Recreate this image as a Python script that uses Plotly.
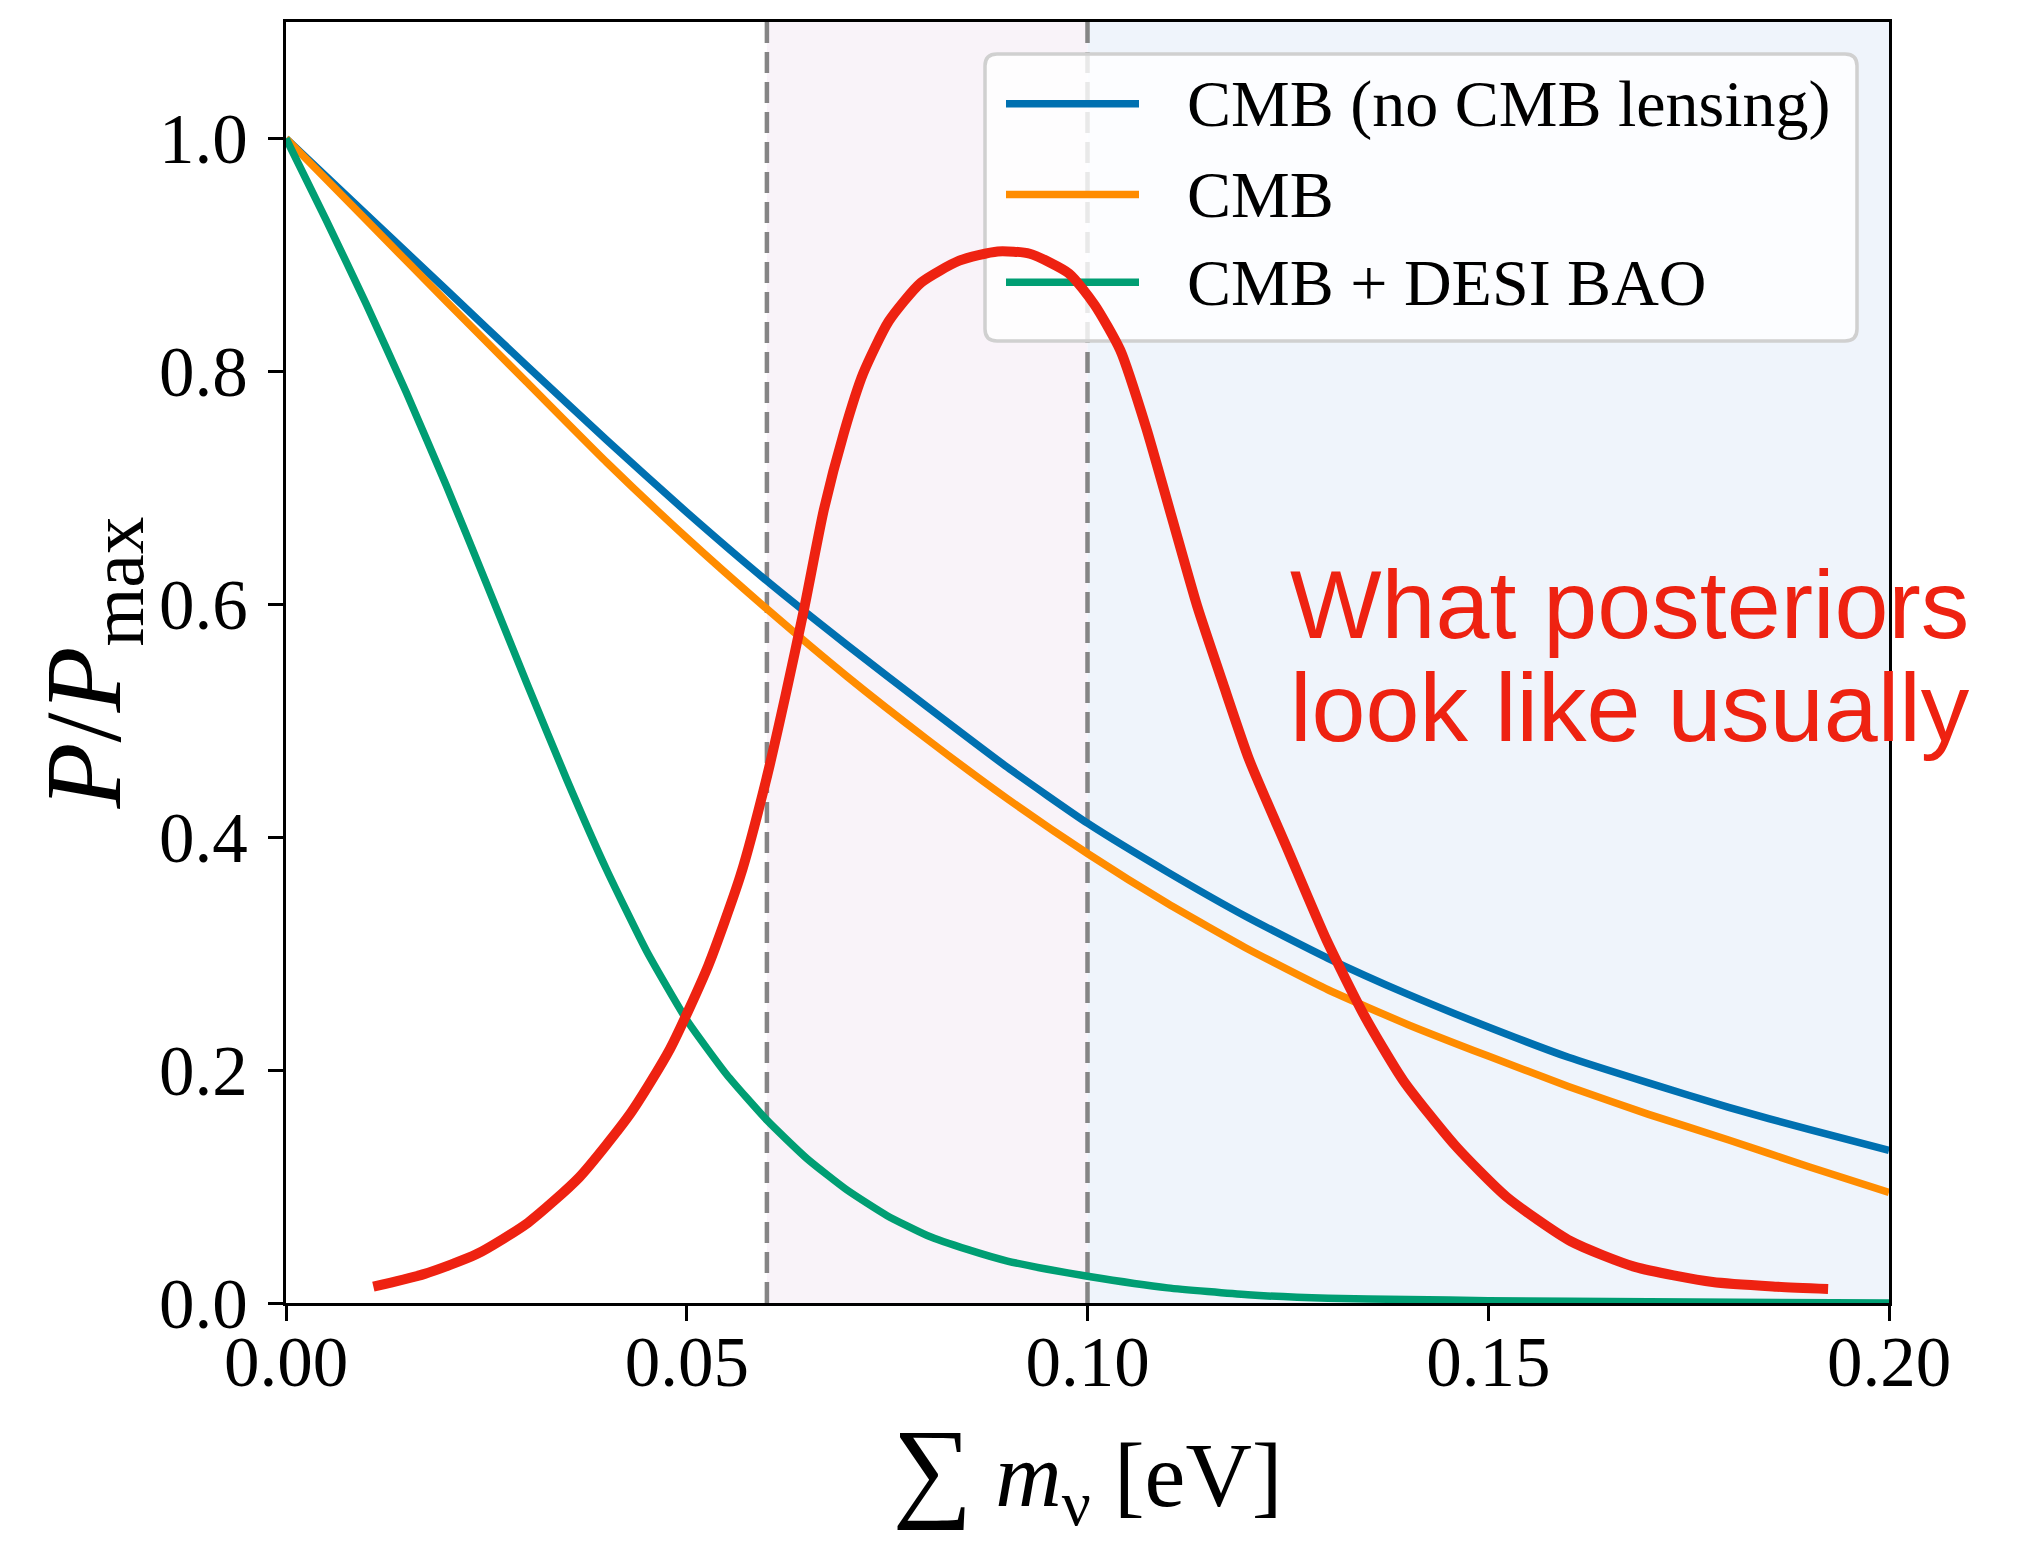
import plotly.graph_objects as go

# ---------------- data ----------------
mnu_grid = [0.00, 0.01, 0.02, 0.03, 0.04, 0.05, 0.06, 0.07, 0.08, 0.09, 0.10,
            0.11, 0.12, 0.13, 0.14, 0.15, 0.16, 0.17, 0.18, 0.19, 0.20]
p_cmb_nolens = [1.000, 0.935, 0.870, 0.805, 0.741, 0.679, 0.620, 0.565, 0.512, 0.460, 0.412,
                0.370, 0.331, 0.296, 0.265, 0.237, 0.211, 0.189, 0.168, 0.149, 0.131]
p_cmb = [1.000, 0.930, 0.860, 0.791, 0.722, 0.657, 0.596, 0.538, 0.484, 0.433, 0.386,
         0.343, 0.304, 0.269, 0.239, 0.212, 0.186, 0.162, 0.140, 0.117, 0.095]

mnu_desi = [0.000, 0.005, 0.010, 0.015, 0.020, 0.025, 0.030, 0.035, 0.040, 0.045, 0.050,
            0.055, 0.060, 0.065, 0.070, 0.075, 0.080, 0.085, 0.090, 0.095, 0.100,
            0.110, 0.120, 0.130, 0.140, 0.150, 0.170, 0.200]
p_desi = [1.000, 0.930, 0.858, 0.782, 0.702, 0.618, 0.533, 0.450, 0.372, 0.302, 0.243,
          0.196, 0.157, 0.124, 0.097, 0.075, 0.058, 0.046, 0.036, 0.029, 0.023,
          0.013, 0.007, 0.004, 0.003, 0.002, 0.001, 0.000]

mnu_sketch = [0.0109, 0.0173, 0.0238, 0.0302, 0.0366, 0.0430, 0.0479, 0.0527, 0.0567,
              0.0599, 0.0623, 0.0647, 0.0671, 0.0696, 0.0720, 0.0752, 0.0792, 0.0840,
              0.0888, 0.0928, 0.0977, 0.1009, 0.1041, 0.1073, 0.1105, 0.1137, 0.1169,
              0.1202, 0.1250, 0.1298, 0.1346, 0.1394, 0.1459, 0.1523, 0.1603, 0.1683,
              0.1780, 0.1860, 0.1924]
p_sketch = [0.014, 0.025, 0.042, 0.069, 0.108, 0.163, 0.218, 0.290, 0.367,
            0.449, 0.521, 0.598, 0.681, 0.747, 0.798, 0.843, 0.876, 0.895,
            0.903, 0.901, 0.884, 0.857, 0.818, 0.752, 0.675, 0.598, 0.532,
            0.466, 0.389, 0.312, 0.246, 0.191, 0.135, 0.091, 0.053, 0.031,
            0.018, 0.014, 0.012]

series_names = ["CMB (no CMB lensing)", "CMB", "CMB + DESI BAO"]
series_colors = ["#0070B0", "#FF8C00", "#009E73"]
sketch_color = "#EE2211"

region_edges = [0.06, 0.10, 0.20]
region_colors = ["#F9F3F9", "#EFF4FB"]

x_ticks = [0.00, 0.05, 0.10, 0.15, 0.20]
y_ticks = [0.0, 0.2, 0.4, 0.6, 0.8, 1.0]

annotation_lines = ["What posteriors", "look like usually"]

# ---------------- figure ----------------
W, H = 2019, 1543
# frame as measured on the reference (used for relative placement of decorations)
RL, RT, RW, RH = 286, 19, 1603, 1285
# actual margins
ML, MR, MT, MB = 278, 138, 14, 248


def px_x(px):
    return (px - RL) / RW


def px_y(py):
    return (RT + RH - py) / RH


SERIF = "Liberation Serif"
fig = go.Figure()

ys = [p_cmb_nolens, p_cmb]
for name, col, yv in zip(series_names[:2], series_colors[:2], ys):
    fig.add_trace(go.Scatter(x=mnu_grid, y=yv, mode="lines", name=name,
                             line=dict(color=col, width=7.5, shape="spline", smoothing=0.5),
                             showlegend=False))
fig.add_trace(go.Scatter(x=mnu_desi, y=p_desi, mode="lines", name=series_names[2],
                         line=dict(color=series_colors[2], width=7.5, shape="spline", smoothing=0.5),
                         showlegend=False))
fig.add_trace(go.Scatter(x=mnu_sketch, y=p_sketch, mode="lines", name="sketch",
                         line=dict(color=sketch_color, width=10, shape="spline", smoothing=0.6),
                         showlegend=False))

shapes = []
# shaded regions
for x0, x1, col in zip(region_edges[:-1], region_edges[1:], region_colors):
    shapes.append(dict(type="rect", xref="x", yref="paper", x0=x0, x1=x1, y0=0, y1=1,
                       fillcolor=col, line=dict(width=0), layer="below"))
# dashed lines
for xv in region_edges[:-1]:
    shapes.append(dict(type="line", xref="x", yref="paper", x0=xv, x1=xv, y0=0, y1=1,
                       line=dict(color="#858585", width=4.5, dash="21px,9px"), layer="below"))

# legend box (rounded)
lx0, lx1 = px_x(985), px_x(1857)
ly0, ly1 = px_y(339), px_y(51)
rx, ry = 12 / RW, 12 / RH
path = (f"M{lx0+rx},{ly0} L{lx1-rx},{ly0} Q{lx1},{ly0} {lx1},{ly0+ry} "
        f"L{lx1},{ly1-ry} Q{lx1},{ly1} {lx1-rx},{ly1} L{lx0+rx},{ly1} "
        f"Q{lx0},{ly1} {lx0},{ly1-ry} L{lx0},{ly0+ry} Q{lx0},{ly0} {lx0+rx},{ly0} Z")
shapes.append(dict(type="path", xref="paper", yref="paper", path=path,
                   fillcolor="rgba(255,255,255,0.82)", line=dict(color="#D0D0D0", width=3.5),
                   layer="below"))

annotations = []
row_py = [101, 192, 280]
for name, col, py in zip(series_names, series_colors, row_py):
    shapes.append(dict(type="line", xref="paper", yref="paper",
                       x0=px_x(1006), x1=px_x(1139), y0=px_y(py), y1=px_y(py),
                       line=dict(color=col, width=7.5), layer="below"))
    annotations.append(dict(text=name, xref="paper", yref="paper", x=px_x(1185), y=px_y(py),
                            xanchor="left", yanchor="middle", showarrow=False,
                            font=dict(family=SERIF, size=66, color="black")))

# red hand-written note
for txt, py in zip(annotation_lines, [603, 707]):
    annotations.append(dict(text=txt, xref="paper", yref="paper", x=px_x(1288), y=px_y(py),
                            xanchor="left", yanchor="middle", showarrow=False,
                            font=dict(family="Liberation Sans", size=97, color=sketch_color)))

axis_common = dict(showline=True, linecolor="black", linewidth=3, mirror=True,
                   ticks="outside", ticklen=15, tickwidth=3, tickcolor="black",
                   showgrid=False, zeroline=False,
                   tickfont=dict(family=SERIF, size=71, color="black"))

fig.update_layout(
    width=W, height=H,
    margin=dict(l=ML, r=MR, t=MT, b=MB, autoexpand=False),
    paper_bgcolor="white", plot_bgcolor="white",
    shapes=shapes, annotations=annotations,
    xaxis=dict(range=[0, 0.2], tickvals=x_ticks, ticktext=[f"{v:.2f}" for v in x_ticks],
               title=dict(text='<span style="font-size:112px">∑</span> <i>m</i><sub>ν</sub> [eV]',
                          font=dict(family=SERIF, size=92, color="black"), standoff=42),
               ticklabelstandoff=-20, **axis_common),
    yaxis=dict(range=[0, 1.1], tickvals=y_ticks, ticktext=[f"{v:.1f}" for v in y_ticks],
               title=dict(text="<i>P</i>/<i>P</i><sub>max</sub>",
                          font=dict(family=SERIF, size=108, color="black"), standoff=0),
               ticklabelstandoff=6, **axis_common),
)

fig.write_html("out.html")
